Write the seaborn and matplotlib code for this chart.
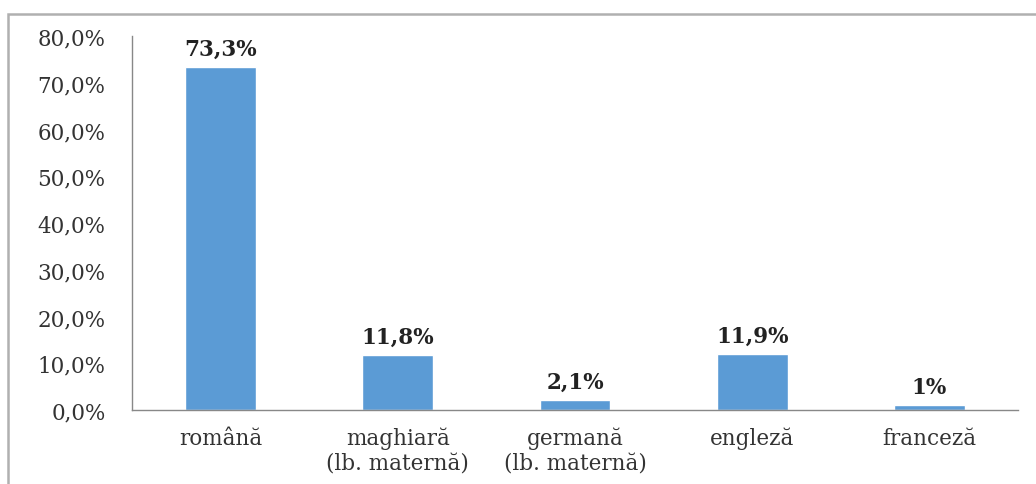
import numpy as np
import pandas as pd
import seaborn as sns
import matplotlib.pyplot as plt
from matplotlib.patches import Rectangle
from matplotlib.ticker import FixedLocator, FuncFormatter

limbi = ["română", "maghiară\n(lb. maternă)", "germană\n(lb. maternă)", "engleză", "franceză"]
procente = [73.3, 11.8, 2.1, 11.9, 1.0]
etichete = ["73,3%", "11,8%", "2,1%", "11,9%", "1%"]

sns.set_style("white")
plt.rcParams['font.family'] = ['DejaVu Serif']

df = pd.DataFrame({"limba": limbi, "procent": procente})

fig = plt.figure(figsize=(10.36, 4.85), dpi=100)
ax = fig.add_axes([132/1036, 74/485, (1018-132)/1036, (411-37)/485])

sns.barplot(data=df, x="limba", y="procent", color="#5B9BD5", width=0.4,
            saturation=1, ax=ax)

for i, (v, t) in enumerate(zip(procente, etichete)):
    ax.text(i, v + 1.6, t, ha="center", va="bottom", fontsize=15.5,
            fontweight="bold", color="#222222")

ax.set_ylim(0, 80)
ax.set_xlim(-0.5, 4.5)
ax.set_yticks(np.arange(0, 81, 10))
ax.yaxis.set_major_formatter(FuncFormatter(lambda v, p: f"{v:.1f}".replace(".", ",") + "%"))
ax.set_xlabel("")
ax.set_ylabel("")

ax.xaxis.set_minor_locator(FixedLocator(np.arange(-0.5, 5, 1)))
ax.tick_params(axis="x", which="major", length=0, pad=12, labelsize=15.5)
ax.tick_params(axis="x", which="minor", length=6, width=1, color="#888888", direction="out")
ax.tick_params(axis="y", which="major", length=5, width=1, color="#999999", direction="out",
               labelsize=15.5, pad=14)
ax.tick_params(axis="both", labelcolor="#333333")

for s in ["top", "right"]:
    ax.spines[s].set_visible(False)
for s in ["left", "bottom"]:
    ax.spines[s].set_color("#888888")
    ax.spines[s].set_linewidth(1)

# outer frame of the chart
fig.patches.append(Rectangle((8/1036, -0.1), 1.2, (485-15)/485 + 0.1,
                             transform=fig.transFigure, fill=False,
                             edgecolor="#b0b0b0", linewidth=1.8))

fig.savefig("out.png", dpi=100)
